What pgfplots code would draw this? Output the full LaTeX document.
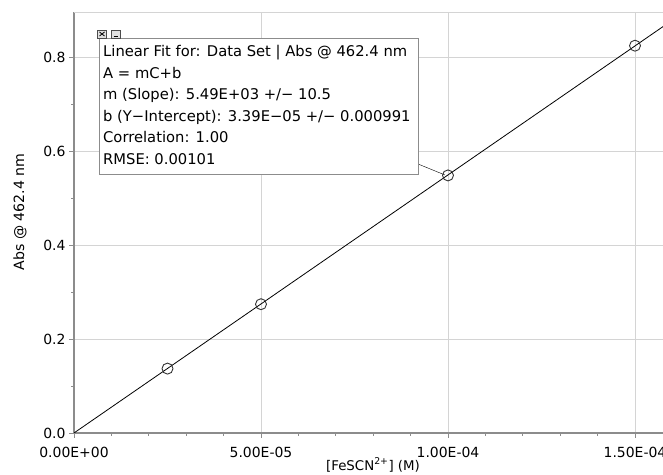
\documentclass[border=0pt]{standalone}
\usepackage{fontspec}
\setmainfont{DejaVu Sans}
\usepackage{pgfplots}
\pgfplotsset{compat=1.18}

\definecolor{axisgray}{HTML}{8C8C8C}
\definecolor{gridgray}{HTML}{D4D4D4}
\definecolor{markgray}{HTML}{333333}

\begin{document}
\begin{tikzpicture}[x=1bp,y=1bp]
\path[use as bounding box] (0,0) rectangle (663,475);
\begin{axis}[
  at={(74bp,42bp)},anchor=south west,
  width=589bp,height=421bp,scale only axis,
  xmin=0,xmax=1.5749e-4,ymin=0,ymax=0.8957,
  axis x line*=bottom,axis y line*=left,
  axis line style={-,axisgray,line width=1.5bp},
  tick align=outside,
  major tick length=5bp,minor tick length=3bp,
  tick style={axisgray,line width=0.8bp},
  xtick={0,5e-5,1e-4,1.5e-4},
  xticklabels={0.00E+00,5.00E-05,1.00E-04,1.50E-04},
  minor x tick num=4,
  ytick={0,0.2,0.4,0.6,0.8},
  yticklabels={0.0,0.2,0.4,0.6,0.8},
  minor y tick num=1,
  scaled x ticks=false,scaled y ticks=false,
  tick label style={font=\fontsize{14}{16}\selectfont},
  xticklabel style={yshift=-6bp},
  grid=major,major grid style={gridgray,line width=0.9bp},
]
% top edge of the plot area
\draw[gridgray,line width=0.9bp] (axis cs:0,0.8957) -- (axis cs:1.6e-4,0.8957);
% linear fit
\addplot[black,line width=0.8bp] coordinates {(0,0.0000339) (1.6e-4,0.8784)};
% measured points
\addplot[only marks,mark=o,mark size=5.5bp,
  mark options={markgray,line width=0.9bp}] coordinates {
  (2.5e-5,0.137) (5e-5,0.274) (1e-4,0.548) (1.5e-4,0.824)};
\end{axis}
% axis titles
\node[font=\fontsize{14.2}{16}\selectfont,rotate=90] at (20,263) {Abs @ 462.4 nm};
\node[font=\fontsize{13.4}{16}\selectfont] at (373,10) {[FeSCN\textsuperscript{2+}] (M)};
% annotation box
\draw[black] (418,311) -- (445,300);
\draw[axisgray,fill=white,line width=0.8bp] (99,437) rectangle (418,301);
\begin{scope}[font=\fontsize{14.8}{20}\selectfont]
\node[anchor=base west,inner sep=0] at (103,418) {Linear Fit for: Data Set | Abs @ 462.4 nm};
\node[anchor=base west,inner sep=0] at (103,396.5) {A = mC+b};
\node[anchor=base west,inner sep=0] at (103,375) {m (Slope): 5.49E+03 +/{\textminus} 10.5};
\node[anchor=base west,inner sep=0] at (103,353.5) {b (Y{\textminus}Intercept): 3.39E{\textminus}05 +/{\textminus} 0.000991};
\node[anchor=base west,inner sep=0] at (103,332) {Correlation: 1.00};
\node[anchor=base west,inner sep=0] at (103,310.5) {RMSE: 0.00101};
\end{scope}
% close / minimise buttons
\draw[black!70,fill=black!12,line width=0.5bp] (97.5,437) rectangle (106.5,445);
\draw[black,line width=0.8bp] (99.5,439) -- (104.5,443) (99.5,443) -- (104.5,439);
\draw[black!70,fill=black!12,line width=0.5bp] (111.5,437) rectangle (120,445);
\draw[black,line width=0.8bp] (113.5,439) -- (118,439);
\end{tikzpicture}
\end{document}
